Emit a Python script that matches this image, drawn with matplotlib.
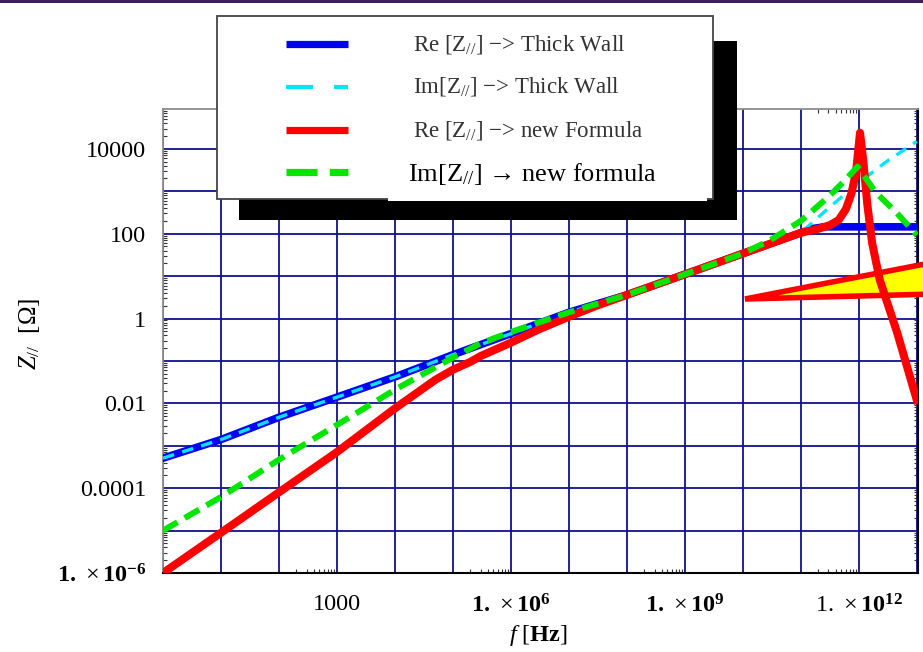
import numpy as np
import matplotlib.pyplot as plt
from matplotlib.patches import Rectangle, Polygon
from matplotlib.lines import Line2D
from matplotlib.ticker import FixedLocator, FuncFormatter, NullFormatter

plt.rcParams['font.family'] = ['Liberation Serif', 'DejaVu Serif']
plt.rcParams['mathtext.fontset'] = 'custom'
plt.rcParams['mathtext.rm'] = 'Liberation Serif'
plt.rcParams['mathtext.it'] = 'Liberation Serif:italic'
plt.rcParams['mathtext.bf'] = 'Liberation Serif:bold'

# values (f in Hz, Z in Ohm)
f_re_tw = [1, 10, 100, 1e3, 1e4, 1e5, 1e6, 1e7, 1e8, 1e9, 1e10, 1e11, 1.6e11, 2.5e11, 1e12, 1e13]
z_re_tw = [5.1e-4, 1.4e-3, 4.7e-3, 1.4e-2, 4.2e-2, 0.14, 0.44, 1.4, 3.6, 11, 34, 105, 132, 145, 145, 145]

f_im_tw = [1, 10, 100, 1e3, 1e4, 1e5, 1e6, 1e7, 1e8, 1e9, 1e10, 1e11, 3e11, 1e12, 3e12, 1e13]
z_im_tw = [5.1e-4, 1.4e-3, 4.7e-3, 1.4e-2, 4.2e-2, 0.14, 0.44, 1.4, 3.6, 11, 34, 105, 400, 1600, 5000, 15000]

f_re_new = [1, 10, 100, 1e3, 1e4, 3e4, 5e4, 1e5, 2e5, 3e5, 1e6, 3e6, 1e7, 3e7, 1e8, 1e9, 1e10, 1e11,
            2e11, 3.2e11, 4.5e11, 6e11, 7.5e11, 9e11, 1.05e12, 1.2e12, 1.4e12, 1.7e12,
            2.3e12, 4.6e12, 1e13]
z_re_new = [1.0e-6, 8.9e-6, 8.0e-5, 7.1e-4, 7.6e-3, 2.2e-2, 3.6e-2, 6.2e-2, 9.5e-2, 0.13, 0.27, 0.55,
            1.1, 2.0, 3.6, 11, 34, 105, 130, 160, 210, 380, 900, 3000, 24000, 5000, 500, 60,
            8.1, 0.46, 0.012]

f_im_new = [1, 10, 100, 1e3, 1e4, 1e5, 3e5, 1e6, 1e7, 1e8, 1e9, 1e10, 3e10, 1e11, 3e11, 6e11,
            9.5e11, 2e12, 4.5e12, 1e13]
z_im_new = [1.0e-5, 6.2e-5, 4.7e-4, 3.1e-3, 2.1e-2, 0.12, 0.26, 0.48, 1.4, 3.6, 11, 34, 71, 200,
            740, 1900, 3800, 910, 310, 93]

x_labels = {3: '1000',
            6: r'$\mathbf{1.}\,\times\mathbf{10}^{\mathbf{6}}$',
            9: r'$\mathbf{1.}\,\times\mathbf{10}^{\mathbf{9}}$',
            12: r'$1.\,\times\mathbf{10}^{\mathbf{12}}$'}
y_labels = {4: '10000', 2: '100', 0: '1', -2: '0.01', -4: '0.0001',
            -6: r'$\mathbf{1.}\,\times\mathbf{10}^{\mathbf{-6}}$'}

legend_text = [r'Re [Z$_{//}$] $-$> Thick Wall',
               r'Im[Z$_{//}$] $-$> Thick Wall',
               r'Re [Z$_{//}$] $-$> new Formula']
legend_last = r'Im[Z$_{//}$] → new formula'

W, H = 923, 652
fig = plt.figure(figsize=(W / 100, H / 100), dpi=100)


def fx(px):
    return px / W


def fy(py):
    return 1 - py / H


ax = fig.add_axes([fx(163), fy(573), (918 - 163) / W, (573 - 109) / H])
ax.set_xscale('log')
ax.set_yscale('log')
ax.set_xlim(1, 1.05e13)
ax.set_ylim(1e-6, 8.7e4)

navy = '#10108a'
ax.xaxis.set_major_locator(FixedLocator([10.0 ** k for k in range(0, 14)]))
ax.yaxis.set_major_locator(FixedLocator([10.0 ** k for k in range(-6, 6)]))
ax.xaxis.set_minor_locator(FixedLocator([m * 10.0 ** k for k in (2, 5, 8, 11) for m in range(2, 10)]))
ax.yaxis.set_minor_locator(FixedLocator([m * 10.0 ** k for k in range(-6, 5) for m in range(2, 10)]))
ax.xaxis.set_major_formatter(FuncFormatter(lambda v, p: x_labels.get(int(round(np.log10(v))), '')))
ax.yaxis.set_major_formatter(FuncFormatter(lambda v, p: y_labels.get(int(round(np.log10(v))), '')))
ax.xaxis.set_minor_formatter(NullFormatter())
ax.yaxis.set_minor_formatter(NullFormatter())
ax.grid(True, which='major', color=navy, lw=1.3)
ax.tick_params(which='major', length=0, labelsize=17.5, colors='black')
ax.tick_params(axis='y', which='major', pad=12)
ax.tick_params(axis='x', which='major', pad=15)
ax.tick_params(which='minor', direction='in', length=3, width=0.8, color='#333333',
               top=True, right=True)
for s in ('left', 'top'):
    ax.spines[s].set_color('#8c8c8c')
    ax.spines[s].set_linewidth(1.3)
for s in ('bottom', 'right'):
    ax.spines[s].set_color('black')
    ax.spines[s].set_linewidth(1.5)

ax.plot(f_re_tw, z_re_tw, color='#0000f0', lw=5.5, solid_joinstyle='round', zorder=3)
ax.plot(f_im_tw, z_im_tw, color='#00e5ff', lw=2.4, dashes=(3.5, 2.5), zorder=4)
ax.plot(f_re_new, z_re_new, color='#ff0000', lw=5.8, solid_joinstyle='round', zorder=5)
ax.plot(f_im_new, z_im_new, color='#00e600', lw=4.3, dashes=(2.8, 1.4), zorder=6)

# pointer wedge
wedge = Polygon([(fx(745), fy(299)), (fx(935), fy(262)), (fx(935), fy(294))], closed=True,
                facecolor='#ffff00', edgecolor='#ff0000', lw=4, joinstyle='miter',
                transform=fig.transFigure, clip_on=False, zorder=4.5)
ax.add_patch(wedge)

ax.text(fx(30), fy(334), r'$Z_{//}$  [Ω]', transform=fig.transFigure, rotation=90,
        ha='center', va='center', fontsize=18)
ax.text(fx(538), fy(636), r'$f$ [$\mathbf{Hz}$]', transform=fig.transFigure,
        ha='center', va='center', fontsize=17.5)

# top bar
fig.patches.append(Rectangle((0, fy(3)), 1, 3 / H, transform=fig.transFigure,
                             facecolor='#3b1f5e', edgecolor='none', zorder=10))

# legend with shadow
fig.patches.append(Rectangle((fx(239), fy(220)), (737 - 239) / W, (220 - 41) / H,
                             transform=fig.transFigure, facecolor='black', edgecolor='none', zorder=10))
fig.patches.append(Rectangle((fx(217), fy(199)), (713 - 217) / W, (199 - 16) / H,
                             transform=fig.transFigure, facecolor='white', edgecolor='#444444',
                             lw=1.3, zorder=11))
fig.patches.append(Rectangle((fx(388), fy(201)), (707 - 388) / W, (201 - 150) / H,
                             transform=fig.transFigure, facecolor='white', edgecolor='none', zorder=12))

fig.lines.append(Line2D([fx(286), fx(348)], [fy(44)] * 2, transform=fig.transFigure,
                        color='#0000f0', lw=5.2, solid_capstyle='butt', zorder=13))
fig.lines.append(Line2D([fx(286), fx(348)], [fy(87)] * 2, transform=fig.transFigure,
                        color='#00e5ff', lw=3, dashes=(6.5, 5), dash_capstyle='butt', zorder=13))
fig.lines.append(Line2D([fx(286), fx(348)], [fy(130)] * 2, transform=fig.transFigure,
                        color='#ff0000', lw=5.2, solid_capstyle='butt', zorder=13))
fig.lines.append(Line2D([fx(286), fx(348)], [fy(172)] * 2, transform=fig.transFigure,
                        color='#00e600', lw=5.2, dashes=(4.3, 1.7), dash_capstyle='butt', zorder=13))

for i, t in enumerate(legend_text):
    fig.text(fx(413), fy(44 + 43 * i), t, ha='left', va='center', fontsize=16.5,
             color='#333333', zorder=14)
fig.text(fx(408), fy(174), legend_last, ha='left', va='center', fontsize=19,
         color='black', zorder=14)

fig.savefig('out.png', dpi=100)
